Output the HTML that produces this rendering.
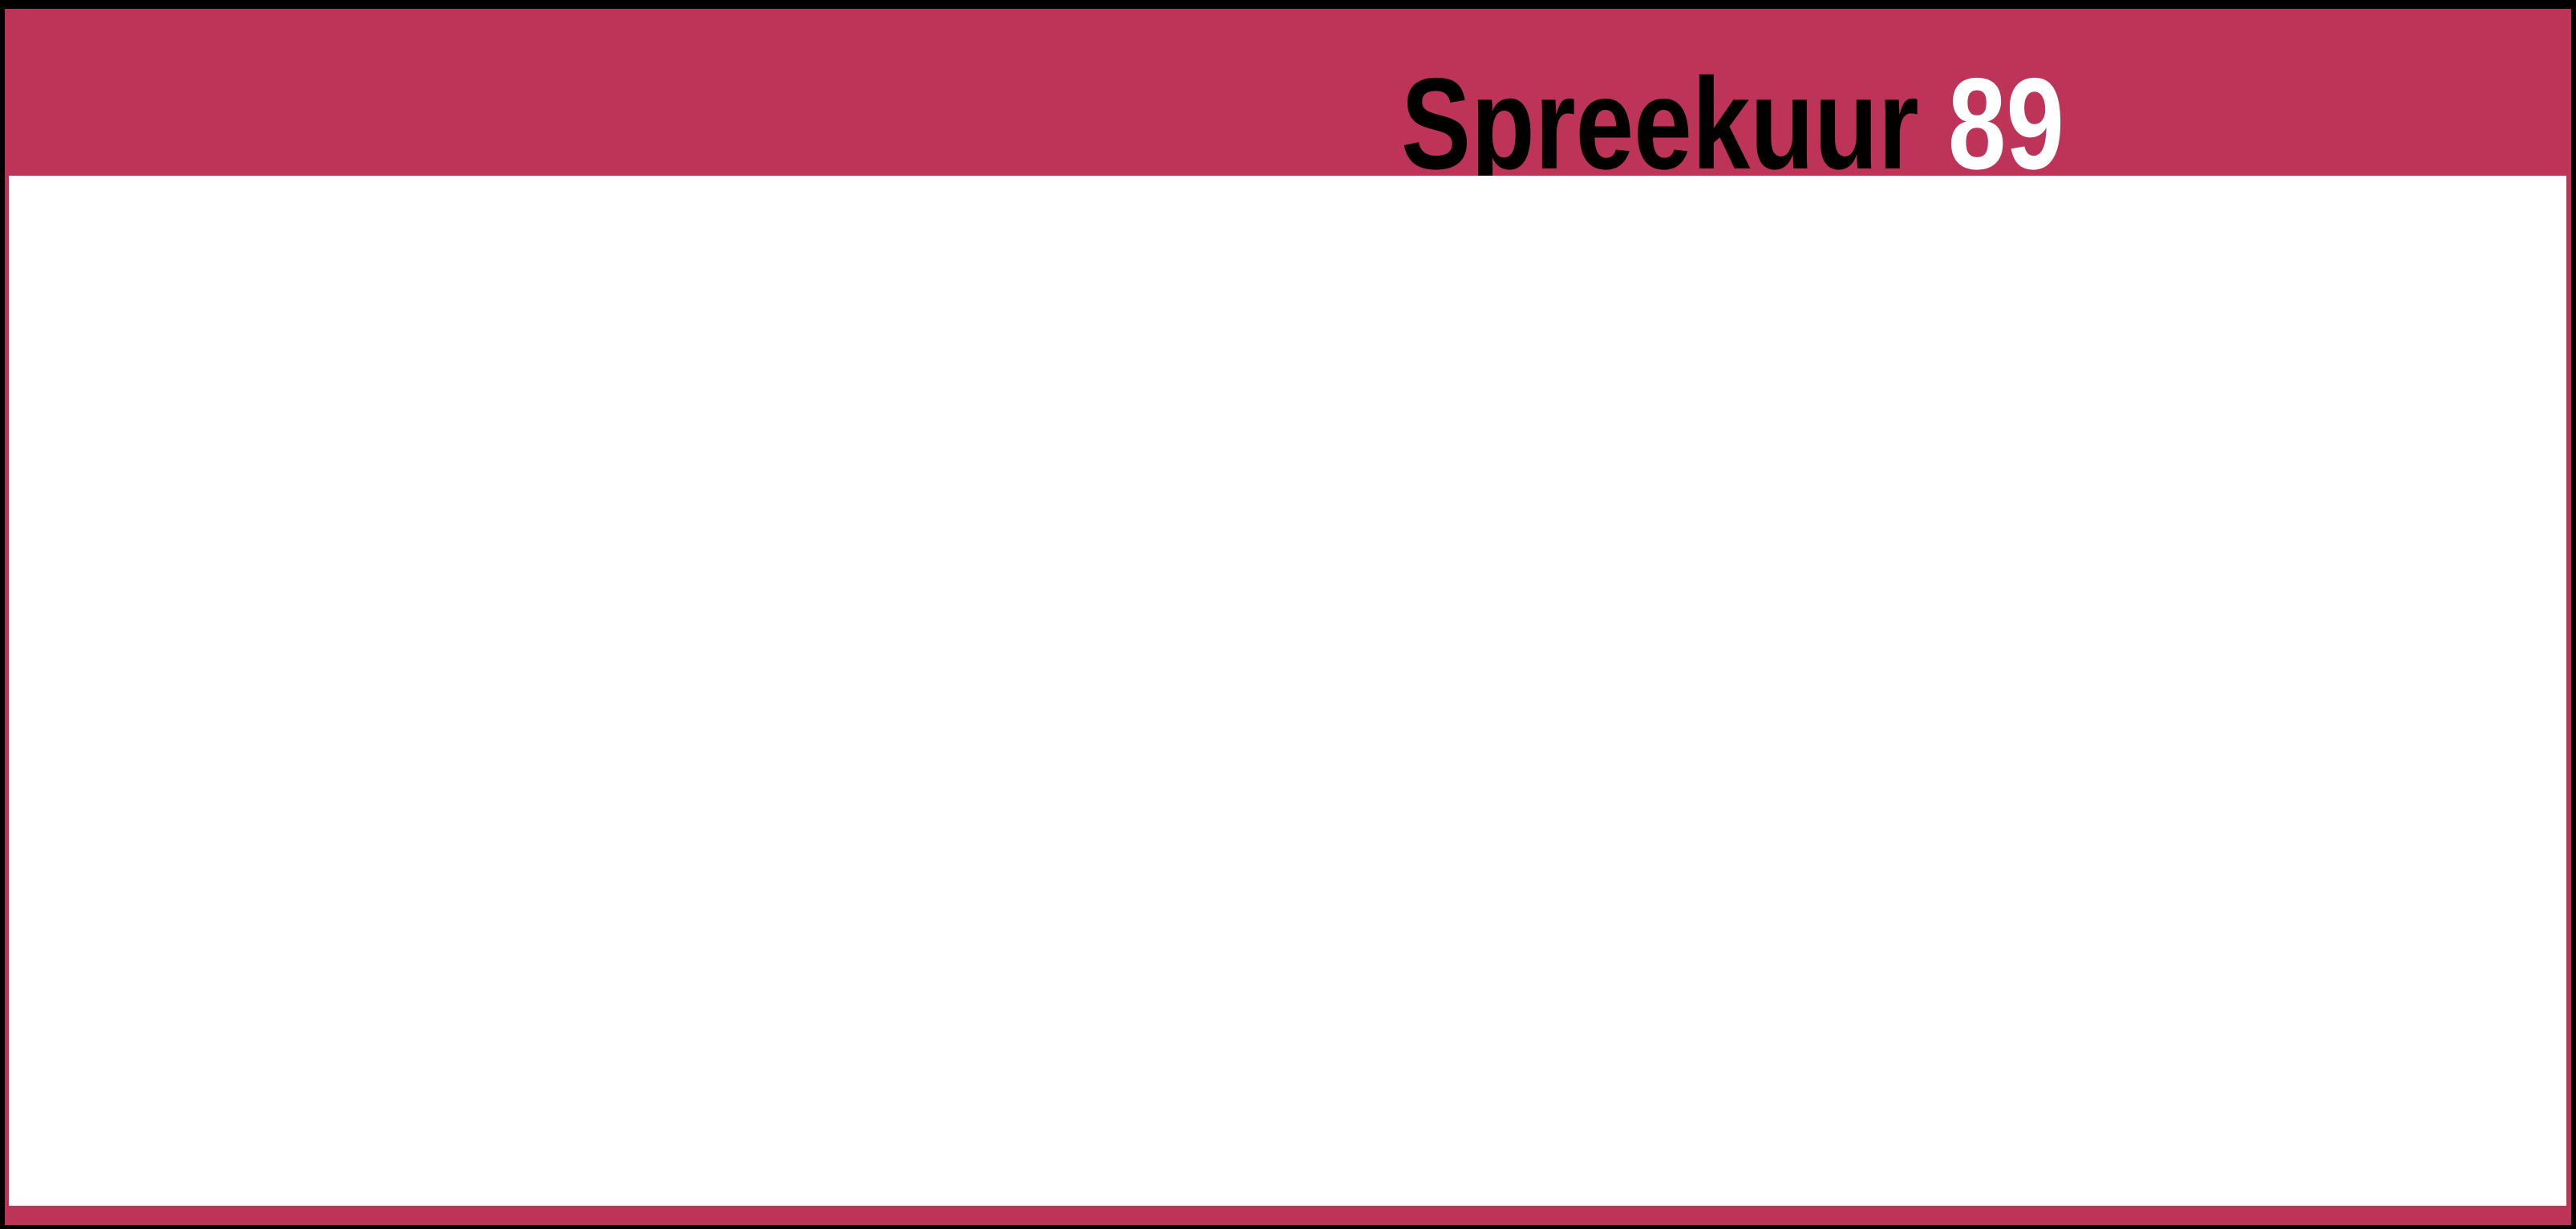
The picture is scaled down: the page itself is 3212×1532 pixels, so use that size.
<!DOCTYPE html>
<html><head><meta charset="utf-8"><style>
html,body{margin:0;padding:0;background:#000;}
body{width:3212px;height:1532px;position:relative;overflow:hidden;}
.pink{position:absolute;left:6px;top:11px;width:3200px;height:1516px;background:#BE3358;}
.white{position:absolute;left:11px;top:219px;width:3189px;height:1284px;background:#fff;}
svg{position:absolute;left:0;top:0;}
</style></head><body>
<div class="pink"></div>
<svg width="3212" height="1532">
<text x="1747" y="210" font-family="Liberation Sans, sans-serif" font-weight="bold" font-size="162" textLength="827" lengthAdjust="spacingAndGlyphs"><tspan fill="#000">Spreekuur </tspan><tspan fill="#fff">89</tspan></text>
</svg>
<div class="white"></div>
</body></html>
